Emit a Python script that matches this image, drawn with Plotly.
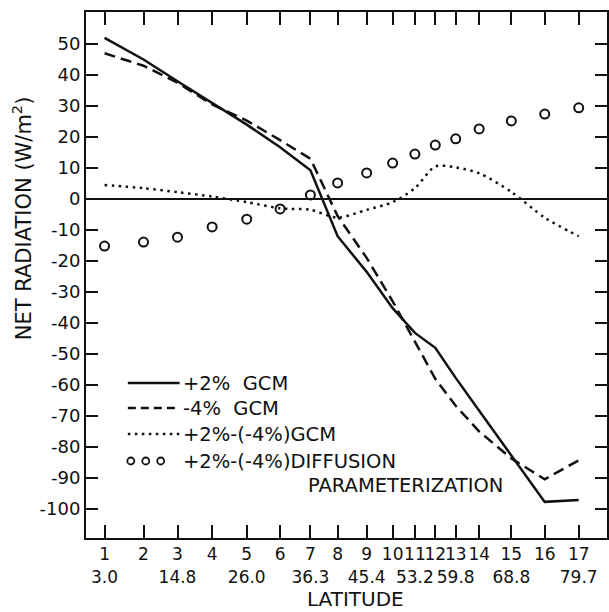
import plotly.graph_objects as go

# ---- data ----
tick_numbers = [str(i) for i in range(1, 18)]
latitudes = [3.0, 9.3, 14.8, 20.4, 26.0, 31.4, 36.3, 40.7, 45.4, 49.6,
             53.2, 56.5, 59.8, 63.6, 68.8, 74.2, 79.7]
lat_labels = ["3.0", "", "14.8", "", "26.0", "", "36.3", "", "45.4", "",
              "53.2", "", "59.8", "", "68.8", "", "79.7"]

plus2_gcm = [52, 45, 38, 31, 24, 16.7, 9.3, -12, -23.5, -35.2,
             -43.2, -48, -57.7, -68.3, -82.7, -97.7, -97.1]
minus4_gcm = [47, 43, 37.5, 30.5, 25.3, 19, 13, -5.5, -19, -33,
              -46, -58, -66.7, -75, -83.7, -90.4, -84.3]
diff_gcm = [4.5, 3.5, 2.2, 0.8, -1, -3, -3.5, -6, -3.5, -1,
            3.5, 10.5, 10.2, 8.3, 2.3, -6, -12]
diff_diffusion = [-15.2, -13.9, -12.3, -9, -6.5, -3.2, 1.3, 5.2, 8.4, 11.6,
                  14.5, 17.4, 19.4, 22.6, 25.2, 27.4, 29.4]

y_ticks = [50, 40, 30, 20, 10, 0, -10, -20, -30, -40, -50, -60, -70, -80, -90, -100]

FONT = "DejaVu Sans"
INK = "#111111"

fig = go.Figure()
fig.add_trace(go.Scatter(x=latitudes, y=plus2_gcm, mode="lines",
                         line=dict(color=INK, width=2.5), showlegend=False))
fig.add_trace(go.Scatter(x=latitudes, y=minus4_gcm, mode="lines",
                         line=dict(color=INK, width=2.5, dash="11px,6px"), showlegend=False))
fig.add_trace(go.Scatter(x=latitudes, y=diff_gcm, mode="lines",
                         line=dict(color=INK, width=2.5, dash="2.5px,4.5px", shape="spline", smoothing=0.8),
                         showlegend=False))
fig.add_trace(go.Scatter(x=latitudes, y=diff_diffusion, mode="markers",
                         marker=dict(symbol="circle-open", size=9, color=INK, line=dict(width=2)),
                         showlegend=False))

W, H = 609, 612
L, R, T, B = 86, 0, 12, 74
pw, ph = W - L - R, H - T - B


def px(xp):
    return (xp - L) / pw


def py(yp):
    return (H - B - yp) / ph


annotations = [
    dict(text="NET RADIATION (W/m<sup>2</sup>)", x=px(22), y=py(218), xref="paper", yref="paper",
         textangle=-90, showarrow=False, xanchor="center", yanchor="middle",
         font=dict(family=FONT, size=21, color=INK)),
    dict(text="LATITUDE", x=px(357), y=py(599), xref="paper", yref="paper",
         showarrow=False, xanchor="center", yanchor="middle",
         font=dict(family=FONT, size=20, color=INK)),
]
legend_rows = [("+2%  GCM", 383), ("-4%  GCM", 408), ("+2%-(-4%)GCM", 434),
               ("+2%-(-4%)DIFFUSION", 461)]
for txt, yy in legend_rows:
    annotations.append(dict(text=txt, x=px(181), y=py(yy), xref="paper", yref="paper",
                            showarrow=False, xanchor="left", yanchor="middle",
                            font=dict(family=FONT, size=19.5, color=INK)))
annotations.append(dict(text="PARAMETERIZATION", x=px(307), y=py(485), xref="paper", yref="paper",
                        showarrow=False, xanchor="left", yanchor="middle",
                        font=dict(family=FONT, size=19.5, color=INK)))

shapes = [
    dict(type="line", xref="paper", yref="paper", x0=px(128), x1=px(180), y0=py(383), y1=py(383),
         line=dict(color=INK, width=2.5)),
    dict(type="line", xref="paper", yref="paper", x0=px(128), x1=px(180), y0=py(408), y1=py(408),
         line=dict(color=INK, width=2.5, dash="8px,5px")),
    dict(type="line", xref="paper", yref="paper", x0=px(128), x1=px(180), y0=py(434), y1=py(434),
         line=dict(color=INK, width=2.5, dash="2.5px,4.5px")),
]
for cx in (131, 146, 161):
    shapes.append(dict(type="circle", xref="paper", yref="paper", xsizemode="pixel", ysizemode="pixel",
                       xanchor=px(cx), yanchor=py(461), x0=-3.5, x1=3.5, y0=-3.5, y1=3.5,
                       line=dict(color=INK, width=1.8)))

fig.update_layout(
    width=W, height=H, margin=dict(l=L, r=R, t=T, b=B),
    plot_bgcolor="white", paper_bgcolor="white",
    font=dict(family=FONT, size=18, color=INK),
    showlegend=False,
    annotations=annotations, shapes=shapes,
    xaxis=dict(range=[0, pw / 6.206], tickmode="array", tickvals=latitudes,
               ticktext=[f"{n}<br>{l}" for n, l in zip(tick_numbers, lat_labels)],
               tickangle=0,
               ticks="inside", ticklen=13, tickwidth=2, tickcolor=INK,
               showline=True, linewidth=2, linecolor=INK, mirror="ticks",
               showgrid=False, zeroline=False, tickfont=dict(family=FONT, size=17, color=INK)),
    yaxis=dict(range=[(H - B - 199) / -3.1, (199 - T) / 3.1], tickmode="array", tickvals=y_ticks,
               ticktext=[str(v).replace("\u2212", "-") for v in y_ticks],
               ticks="inside", ticklen=12, tickwidth=2, tickcolor=INK,
               showline=True, linewidth=2, linecolor=INK, mirror="ticks",
               showgrid=False, zeroline=True, zerolinecolor=INK, zerolinewidth=1.5,
               tickfont=dict(family=FONT, size=18, color=INK)),
)

fig.write_html("out.html")
